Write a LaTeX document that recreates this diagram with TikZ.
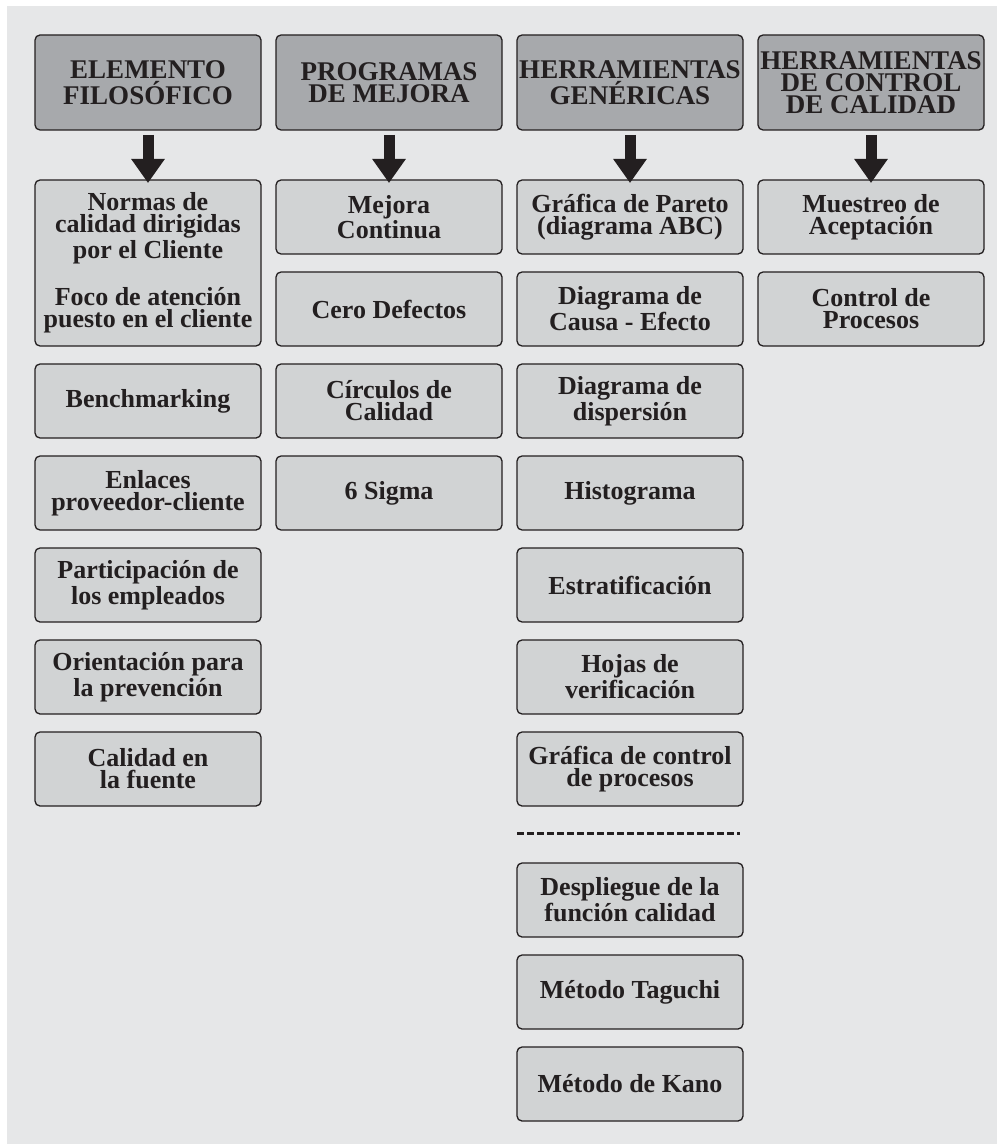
\documentclass[tikz,border=0pt]{standalone}
\usepackage{fontspec}
\setmainfont{Liberation Serif}
\usetikzlibrary{positioning,arrows.meta}

\definecolor{backgray}{HTML}{E6E7E8}
\definecolor{headgray}{HTML}{A7A9AC}
\definecolor{itemgray}{HTML}{D1D3D4}
\definecolor{ink}{HTML}{231F20}

\begin{document}
\begin{tikzpicture}
  [x=0.5pt, y=-0.5pt, node distance=9pt,
   font=\fontsize{13}{11}\selectfont\bfseries,
   box/.style={draw=ink, line width=0.65pt, rounded corners=2.5pt, text=ink, outer sep=0pt,
               minimum width=113pt, minimum height=37pt, align=center, inner sep=1pt},
   head/.style={box, fill=headgray, minimum height=47.5pt,
                font=\fontsize{13.5}{11}\selectfont\bfseries},
   item/.style={box, fill=itemgray},
   bigarrow/.style={draw=ink, line width=5.5pt, shorten <=2.5pt, shorten >=-1.5pt,
                    -{Triangle[width=16pt,length=12pt]}},
   sepline/.style={draw=ink, line width=1.5pt, dash pattern=on 3.5pt off 1.5pt}]
  \useasboundingbox (0,0) rectangle (997,1144);
  \fill[backgray] (7,6) rectangle (997,1144);

  % headers
  \node[head, anchor=north west] (h1) at (35,35) {ELEMENTO\\FILOSÓFICO};
  \node[head, right=7.5pt of h1] (h2) {PROGRAMAS\\DE MEJORA};
  \node[head, right=7.5pt of h2] (h3) {HERRAMIENTAS\\GENÉRICAS};
  \node[head, right=7.5pt of h3] (h4) {HERRAMIENTAS\\DE CONTROL\\DE CALIDAD};

  % elemento filosofico
  \node[item, below=25pt of h1, minimum height=83pt] (f1)
    {Normas de\\calidad dirigidas\\por el Cliente\\[11pt]Foco de atención\\puesto en el cliente};
  \node[item, below=of f1] (f2) {Benchmarking};
  \node[item, below=of f2] (f3) {Enlaces\\proveedor-cliente};
  \node[item, below=of f3] (f4) {Participación de\\los empleados};
  \node[item, below=of f4] (f5) {Orientación para\\la prevención};
  \node[item, below=of f5] (f6) {Calidad en\\la fuente};

  % programas de mejora
  \node[item, below=25pt of h2] (p1) {Mejora\\Continua};
  \node[item, below=of p1] (p2) {Cero Defectos};
  \node[item, below=of p2] (p3) {Círculos de\\Calidad};
  \node[item, below=of p3] (p4) {6 Sigma};

  % herramientas genericas
  \node[item, below=25pt of h3] (g1) {Gráfica de Pareto\\(diagrama ABC)};
  \node[item, below=of g1] (g2) {Diagrama de\\Causa - Efecto};
  \node[item, below=of g2] (g3) {Diagrama de\\dispersión};
  \node[item, below=of g3] (g4) {Histograma};
  \node[item, below=of g4] (g5) {Estratificación};
  \node[item, below=of g5] (g6) {Hojas de\\verificación};
  \node[item, below=of g6] (g7) {Gráfica de control\\de procesos};
  \coordinate (sepL) at ([yshift=-13.5pt]g7.south west);
  \coordinate (sepR) at ([yshift=-13.5pt, xshift=-1.5pt]g7.south east);
  \node[item, below=28.5pt of g7] (g8) {Despliegue de la\\función calidad};
  \node[item, below=of g8] (g9) {Método Taguchi};
  \node[item, below=of g9] (g10) {Método de Kano};

  % herramientas de control de calidad
  \node[item, below=25pt of h4] (c1) {Muestreo de\\Aceptación};
  \node[item, below=of c1] (c2) {Control de\\Procesos};

  \draw[sepline] (sepL) -- (sepR);
  \draw[bigarrow] (h1) -- (f1);
  \draw[bigarrow] (h2) -- (p1);
  \draw[bigarrow] (h3) -- (g1);
  \draw[bigarrow] (h4) -- (c1);
\end{tikzpicture}
\end{document}
